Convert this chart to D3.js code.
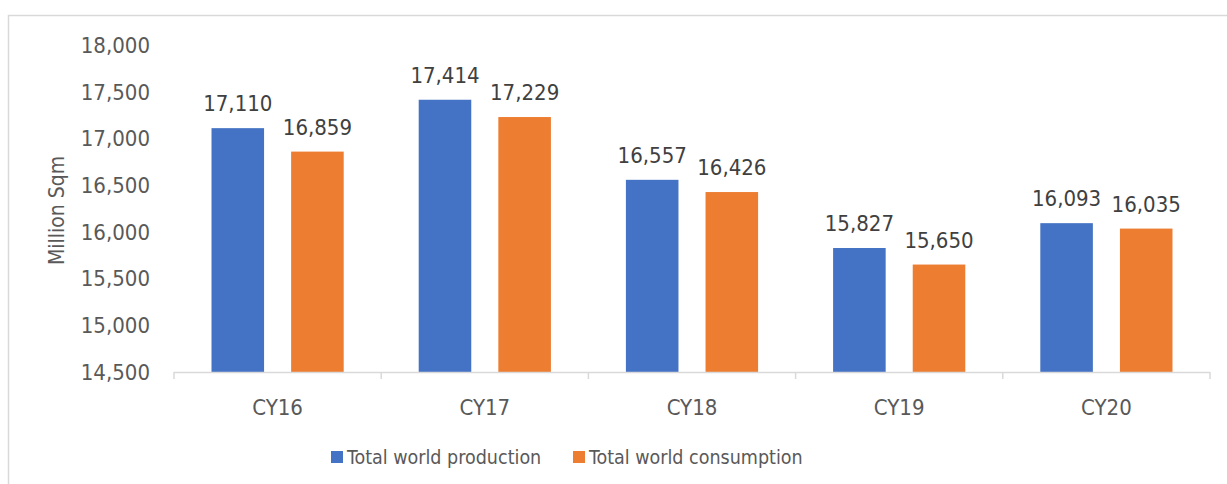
<!DOCTYPE html>
<html>
<head>
<meta charset="utf-8">
<script src="https://cdn.jsdelivr.net/npm/d3@7"></script>
<style>
    body { margin: 0; background: #fff; }
    text { font-family: "DejaVu Sans Condensed", "DejaVu Sans", sans-serif; }
</style>
</head>
<body>
<script>
var categories = ["CY16", "CY17", "CY18", "CY19", "CY20"];
var seriesNames = ["Total world production", "Total world consumption"];
var production = [17110, 17414, 16557, 15827, 16093];
var consumption = [16859, 17229, 16426, 15650, 16035];
var yTicks = [14500, 15000, 15500, 16000, 16500, 17000, 17500, 18000];
var colors = ["#4472C4", "#ED7D31"];

var width = 1227, height = 484;
var fontSize = 22;

var svg = d3.select("body").append("svg")
    .attr("width", width)
    .attr("height", height);

// chart frame
svg.append("rect")
    .attr("x", 8.5)
    .attr("y", 15.5)
    .attr("width", 1240)
    .attr("height", 500)
    .style("fill", "none")
    .style("stroke", "#d9d9d9")
    .style("stroke-width", 1.5);

var y = d3.scaleLinear()
    .domain([14500, 18000])
    .range([372, 45]);

var x0 = d3.scaleBand()
    .domain(categories)
    .range([174, 1210])
    .paddingInner(0.362)
    .paddingOuter(0.181);

var x1 = d3.scaleBand()
    .domain(seriesNames)
    .range([0, x0.bandwidth()])
    .paddingInner(0.34);

// y tick labels
svg.append("g")
    .selectAll("text")
    .data(yTicks)
    .enter().append("text")
    .attr("x", 150)
    .attr("y", function (d) { return y(d); })
    .attr("dy", "0.36em")
    .attr("text-anchor", "end")
    .style("font-size", fontSize + "px")
    .style("fill", "#595959")
    .text(function (d) { return d3.format(",")(d); });

// y axis title
svg.append("text")
    .attr("transform", "translate(64," + y(16230) + ") rotate(-90)")
    .attr("text-anchor", "middle")
    .style("font-size", "21px")
    .style("fill", "#595959")
    .text("Million Sqm");

var rows = categories.map(function (c, i) {
    return { cat: c, values: [production[i], consumption[i]] };
});

var groups = svg.append("g")
    .selectAll("g")
    .data(rows)
    .enter().append("g")
    .attr("transform", function (d) { return "translate(" + x0(d.cat) + ",0)"; });

groups.selectAll("rect")
    .data(function (d) { return d.values.map(function (v, k) { return { s: seriesNames[k], v: v, k: k }; }); })
    .enter().append("rect")
    .attr("x", function (d) { return x1(d.s); })
    .attr("y", function (d) { return y(d.v); })
    .attr("width", x1.bandwidth())
    .attr("height", function (d) { return y(14500) - y(d.v); })
    .style("fill", function (d) { return colors[d.k]; });

groups.selectAll("text")
    .data(function (d) { return d.values.map(function (v, k) { return { s: seriesNames[k], v: v, k: k }; }); })
    .enter().append("text")
    .attr("x", function (d) { return x1(d.s) + x1.bandwidth() / 2; })
    .attr("y", function (d) { return y(d.v) - 17; })
    .attr("text-anchor", "middle")
    .style("font-size", fontSize + "px")
    .style("fill", "#404040")
    .text(function (d) { return d3.format(",")(d.v); });

// x axis line and ticks
var step = x0.step();
var axisG = svg.append("g");
axisG.append("line")
    .attr("x1", 174).attr("x2", 174 + step * categories.length)
    .attr("y1", 372.5).attr("y2", 372.5)
    .style("stroke", "#d9d9d9")
    .style("stroke-width", 1.5);

axisG.selectAll("line.tick")
    .data(d3.range(categories.length + 1))
    .enter().append("line")
    .attr("class", "tick")
    .attr("x1", function (i) { return 174 + i * step; })
    .attr("x2", function (i) { return 174 + i * step; })
    .attr("y1", 372)
    .attr("y2", 379)
    .style("stroke", "#d9d9d9")
    .style("stroke-width", 1.5);

axisG.selectAll("text")
    .data(categories)
    .enter().append("text")
    .attr("x", function (d) { return x0(d) + x0.bandwidth() / 2; })
    .attr("y", 407)
    .attr("dy", "0.36em")
    .attr("text-anchor", "middle")
    .style("font-size", fontSize + "px")
    .style("fill", "#595959")
    .text(function (d) { return d; });

// legend
var legendX = [331, 573];
var legend = svg.append("g")
    .selectAll("g")
    .data(seriesNames)
    .enter().append("g")
    .attr("transform", function (d, i) { return "translate(" + legendX[i] + ",457)"; });

legend.append("rect")
    .attr("x", 0)
    .attr("y", -6)
    .attr("width", 12)
    .attr("height", 12)
    .style("fill", function (d, i) { return colors[i]; });

legend.append("text")
    .attr("x", 16)
    .attr("y", 0)
    .attr("dy", "0.36em")
    .style("font-size", "19.5px")
    .style("fill", "#595959")
    .text(function (d) { return d; });
</script>
</body>
</html>
